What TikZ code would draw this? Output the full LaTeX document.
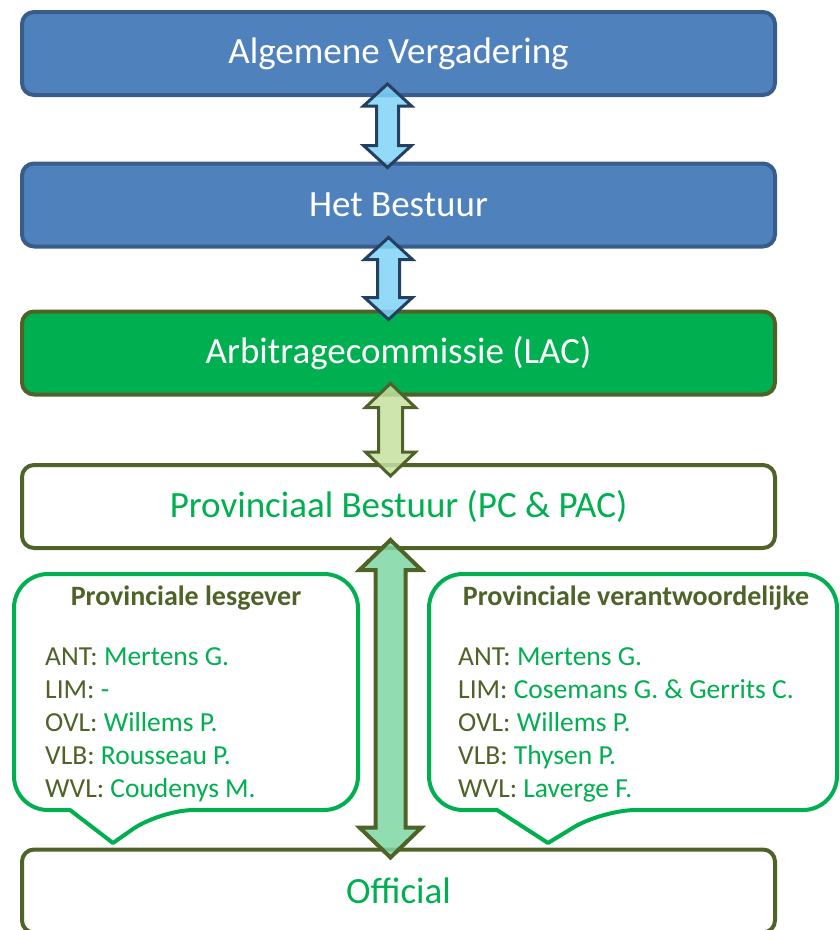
\documentclass[tikz,border=0pt]{standalone}
\usepackage{fontspec}
\setmainfont{Carlito}
\usepackage{tikz}
\usetikzlibrary{calc}
\definecolor{avblauw}{HTML}{4F81BD}
\definecolor{avrand}{HTML}{385D8A}
\definecolor{pijlblauw}{HTML}{7FD3F7}
\definecolor{pijlrand}{HTML}{243F60}
\definecolor{groen}{HTML}{00B050}
\definecolor{olijf}{HTML}{4F6228}
\definecolor{lichtolijf}{HTML}{C5E0A0}
\definecolor{pijlgroen}{HTML}{7FD6A4}
\newcommand{\afk}[1]{\textcolor{olijf}{#1}}
% dubbele blokpijl: stijl, boven, onder, halve schacht, halve kop, koplengte
\newcommand{\dubbelpijl}[6]{%
  \draw[#1] (#2) -- ++(#5,#6) -- ++(#4-#5,0) -- ($(#3)+(#4,-#6)$) -- ++(#5-#4,0) -- (#3)
    -- ++(-#5,-#6) -- ++(#5-#4,0) -- ($(#2)+(-#4,#6)$) -- ++(#4-#5,0) -- cycle;}

\begin{document}
\begin{tikzpicture}[line cap=round,line join=round,x=1pt,y=-1pt,
    balk/.style={line width=4pt,rounded corners=12pt,minimum width=753pt,minimum height=83pt,
      font=\fontsize{37}{44}\selectfont},
    blauwbalk/.style={balk,draw=avrand,fill=avblauw,text=white},
    groenbalk/.style={balk,draw=olijf,fill=groen,text=white},
    witbalk/.style={balk,draw=olijf,fill=white,text=groen},
    blauwpijl/.style={line width=3pt,draw=pijlrand,fill=pijlblauw,fill opacity=0.85,line join=miter},
    groenpijl/.style={line width=3pt,draw=olijf,fill=lichtolijf,fill opacity=0.85,line join=miter},
    grotepijl/.style={line width=4pt,draw=olijf,fill=pijlgroen,fill opacity=0.85,line join=miter},
    ballon/.style={line width=4pt,draw=groen,fill=white},
    titel/.style={anchor=base,inner sep=0pt,text=olijf,font=\bfseries\fontsize{28}{34}\selectfont},
    lijst/.style={anchor=base west,inner sep=0pt,text=groen,font=\fontsize{27.5}{33}\selectfont}]
\useasboundingbox (0,0) rectangle (840,930);
\clip (0,0) rectangle (840,930);

\node[blauwbalk] (av) at (398.5,53.5) {Algemene Vergadering};
\node[blauwbalk] (bestuur) at (398.5,205) {Het Bestuur};
\node[groenbalk] (lac) at (398.5,353) {Arbitragecommissie (LAC)};
\node[witbalk] (pb) at (398.5,506.5) {Provinciaal Bestuur (PC \& PAC)};
\node[witbalk] (official) at (398.5,891) {Official};

% ballonnen
\draw[ballon,rounded corners=34pt] (70,810) -- (14,810) -- (14,574) -- (358,574) -- (358,810) -- (160,810) [sharp corners] -- (113,843) -- cycle;
\draw[ballon,rounded corners=34pt] (497,810) -- (429,810) -- (429,574) -- (837,574) -- (837,810) -- (602,810) [sharp corners] -- (548,843) -- cycle;

\node[titel] (lestitel) at (186,605) {Provinciale lesgever};
\node[lijst] (les1) at (45,665) {\afk{ANT:} Mertens G.};
\node[lijst] (les2) at (45,698) {\afk{LIM:} -};
\node[lijst] (les3) at (45,731) {\afk{OVL:} Willems P.};
\node[lijst] (les4) at (45,764) {\afk{VLB:} Rousseau P.};
\node[lijst] (les5) at (45,797) {\afk{WVL:} Coudenys M.};

\node[titel] (vertitel) at (636,605) {Provinciale verantwoordelijke};
\node[lijst] (ver1) at (458,665) {\afk{ANT:} Mertens G.};
\node[lijst] (ver2) at (458,698) {\afk{LIM:} Cosemans G. \& Gerrits C.};
\node[lijst] (ver3) at (458,731) {\afk{OVL:} Willems P.};
\node[lijst] (ver4) at (458,764) {\afk{VLB:} Thysen P.};
\node[lijst] (ver5) at (458,797) {\afk{WVL:} Laverge F.};

% pijlen
\coordinate (p1a) at ($(av.south)+(-11,-13)$);
\coordinate (p1b) at ($(bestuur.north)+(-11,6)$);
\coordinate (p2a) at ($(bestuur.south)+(-10,-11)$);
\coordinate (p2b) at ($(lac.north)+(-10,10)$);
\coordinate (p3a) at ($(lac.south)+(-8,-13)$);
\coordinate (p3b) at ($(pb.north)+(-8,13)$);
\coordinate (p4a) at ($(pb.south)+(-8,-10)$);
\coordinate (p4b) at ($(official.north)+(-8,10)$);
\dubbelpijl{blauwpijl}{p1a}{p1b}{11}{24}{22}
\dubbelpijl{blauwpijl}{p2a}{p2b}{11}{24}{22}
\dubbelpijl{groenpijl}{p3a}{p3b}{12}{25}{24}
\dubbelpijl{grotepijl}{p4a}{p4b}{15}{31}{30}
\end{tikzpicture}
\end{document}
